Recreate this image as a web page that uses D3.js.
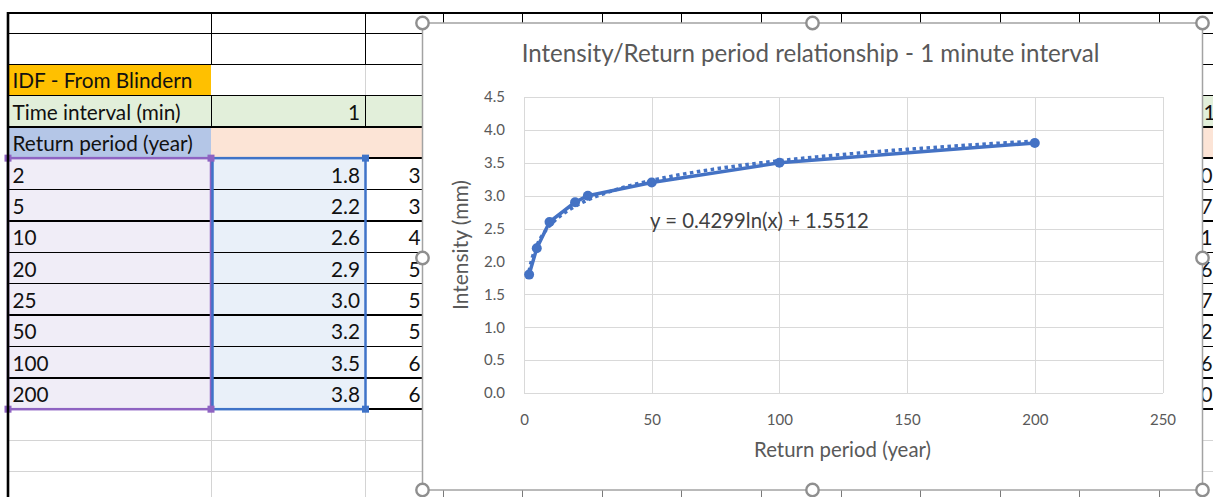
<!DOCTYPE html>
<html>
<head>
<meta charset="utf-8">
<script src="https://cdn.jsdelivr.net/npm/d3@7"></script>
<style>
  html, body { margin: 0; padding: 0; background: #fff; overflow: hidden; }
  svg { display: block; }
  text { font-family: Lato, "Open Sans", sans-serif; }
</style>
</head>
<body>
<svg id="sheet" width="1213" height="497"></svg>
<script>
// ---- data ----
const returnPeriods = [2, 5, 10, 20, 25, 50, 100, 200];
const intensity = [1.8, 2.2, 2.6, 2.9, 3.0, 3.2, 3.5, 3.8];
const headerLabels = ["IDF - From Blindern", "Time interval (min)", "Return period (year)"];
const timeInterval = 1;
const nextColumnDigits = ["3", "3", "4", "5", "5", "5", "6", "6"];
const farColumnHeader = "12";
const farColumnDigits = ["0", "7", "1", "6", "7", "2", "6", "0"];
const xTickValues = [0, 50, 100, 150, 200, 250];
const yTickValues = [0, 0.5, 1.0, 1.5, 2.0, 2.5, 3.0, 3.5, 4.0, 4.5];
const trendSlope = 0.4299;
const trendIntercept = 1.5512;
const chartTitle = "Intensity/Return period relationship - 1 minute interval";
const xAxisTitle = "Return period (year)";
const yAxisTitle = "Intensity (mm)";

const svg = d3.select("#sheet");
const W = 1213;

// scale a text node's font size so it spans the given width
function fitWidth(sel, width) {
  const len = sel.node().getComputedTextLength();
  const fs = parseFloat(sel.attr("font-size"));
  sel.attr("font-size", fs * width / len);
  return fs * width / len;
}

// ---- worksheet grid ----
const colEdges = [8, 211, 365].concat(d3.range(0, 11).map(i => 443 + i * 79.6));
const rowEdges = [13, 33].concat(d3.range(0, 15).map(i => 64 + i * 31.38));
const rowTop = i => rowEdges[i];
const rowBot = i => rowEdges[i + 1];

const fills = svg.append("g");
// IDF title cell
fills.append("rect").attr("x", 8).attr("y", rowTop(2)).attr("width", 203).attr("height", rowBot(2) - rowTop(2)).attr("fill", "#FFC000");
// time interval row
fills.append("rect").attr("x", 8).attr("y", rowTop(3)).attr("width", W - 8).attr("height", rowBot(3) - rowTop(3)).attr("fill", "#E2EFDA");
// return period row
fills.append("rect").attr("x", 8).attr("y", rowTop(4)).attr("width", 203).attr("height", rowBot(4) - rowTop(4)).attr("fill", "#B4C6E7");
fills.append("rect").attr("x", 211).attr("y", rowTop(4)).attr("width", W - 211).attr("height", rowBot(4) - rowTop(4)).attr("fill", "#FCE4D6");
// data block
fills.append("rect").attr("x", 8).attr("y", rowTop(5)).attr("width", 203).attr("height", rowBot(12) - rowTop(5)).attr("fill", "#F0EDF7");
fills.append("rect").attr("x", 211).attr("y", rowTop(5)).attr("width", 154).attr("height", rowBot(12) - rowTop(5)).attr("fill", "#E9F0F9");

const lines = svg.append("g").attr("shape-rendering", "crispEdges");
function hline(y, x1, x2, color, w) {
  lines.append("line").attr("x1", x1).attr("x2", x2).attr("y1", y).attr("y2", y)
    .attr("stroke", color).attr("stroke-width", w || 1);
}
function vline(x, y1, y2, color, w) {
  lines.append("line").attr("x1", x).attr("x2", x).attr("y1", y1).attr("y2", y2)
    .attr("stroke", color).attr("stroke-width", w || 1);
}

// light gridlines under the lower empty rows
hline(rowBot(13), 8, W, "#D4D4D4");
hline(rowBot(14), 8, W, "#D4D4D4");
vline(211, rowBot(12), 497, "#D4D4D4");
vline(365, rowBot(12), 497, "#D4D4D4");
colEdges.slice(3).forEach(x => vline(x, rowBot(12), 497, "#7a7a7a"));
vline(365, rowTop(2), rowBot(2), "#D4D4D4");

// bordered header rows
colEdges.forEach(x => vline(x, 13, 64, "#000"));
hline(33, 8, W, "#000");
hline(64, 8, W, "#000");
hline(rowBot(2), 8, W, "#000");
vline(211, rowTop(3), rowBot(3), "#000");
vline(365, rowTop(3), rowBot(3), "#000");
hline(rowBot(3), 8, W, "#000", 1.5);
hline(rowBot(4), 8, W, "#000", 1.5);
d3.range(5, 13).forEach(r => hline(rowBot(r), 8, W, "#000", 1.5));

// ---- worksheet text ----
const cells = svg.append("g").attr("fill", "#111");
const t0 = cells.append("text").attr("x", 12.5).attr("y", rowBot(2) - 7).attr("font-size", 20).text(headerLabels[0]);
const sheetFont = fitWidth(t0, 180);
cells.append("text").attr("x", 12.5).attr("y", rowBot(3) - 7).attr("font-size", sheetFont).text(headerLabels[1]);
cells.append("text").attr("x", 12.5).attr("y", rowBot(4) - 7).attr("font-size", sheetFont).text(headerLabels[2]);
cells.append("text").attr("x", 360).attr("y", rowBot(3) - 7).attr("font-size", sheetFont).attr("text-anchor", "end").text(timeInterval);
cells.append("text").attr("x", 1203.5).attr("y", rowBot(3) - 7).attr("font-size", sheetFont).text(farColumnHeader);

returnPeriods.forEach((p, i) => {
  const yb = rowBot(5 + i) - 7;
  cells.append("text").attr("x", 12.5).attr("y", yb).attr("font-size", sheetFont).text(p);
  cells.append("text").attr("x", 360).attr("y", yb).attr("font-size", sheetFont).attr("text-anchor", "end").text(intensity[i].toFixed(1));
  cells.append("text").attr("x", 420.5).attr("y", yb).attr("font-size", sheetFont).attr("text-anchor", "end").text(nextColumnDigits[i]);
  cells.append("text").attr("x", 1212.5).attr("y", yb).attr("font-size", sheetFont).attr("text-anchor", "end").text(farColumnDigits[i]);
});

// source range highlights
const sel = svg.append("g");
sel.append("rect").attr("x", 8).attr("y", rowTop(5)).attr("width", 203).attr("height", rowBot(12) - rowTop(5))
  .attr("fill", "none").attr("stroke", "#8E63C2").attr("stroke-width", 2.5);
sel.append("rect").attr("x", 212.5).attr("y", rowTop(5)).attr("width", 153).attr("height", rowBot(12) - rowTop(5))
  .attr("fill", "none").attr("stroke", "#3F73C8").attr("stroke-width", 2.5);
[[211, rowTop(5)], [211, rowBot(12)], [8, rowTop(5)], [8, rowBot(12)]].forEach(([x, y]) =>
  sel.append("rect").attr("x", x - 3.5).attr("y", y - 3.5).attr("width", 7).attr("height", 7).attr("fill", "#8E63C2"));
[[365.5, rowTop(5)], [365.5, rowBot(12)]].forEach(([x, y]) =>
  sel.append("rect").attr("x", x - 3.5).attr("y", y - 3.5).attr("width", 7).attr("height", 7).attr("fill", "#3F73C8"));

// sheet outer edge
svg.append("line").attr("x1", 8).attr("x2", W).attr("y1", 13).attr("y2", 13).attr("stroke", "#000").attr("stroke-width", 2.2);
svg.append("line").attr("x1", 8).attr("x2", 8).attr("y1", 12).attr("y2", 497).attr("stroke", "#000").attr("stroke-width", 2.6);

// ---- embedded chart ----
const frame = { x0: 422.5, y0: 23, x1: 1202.5, y1: 490 };
const chart = svg.append("g");
chart.append("rect").attr("x", frame.x0).attr("y", frame.y0)
  .attr("width", frame.x1 - frame.x0).attr("height", frame.y1 - frame.y0)
  .attr("fill", "#fff").attr("stroke", "#A3A3A3").attr("stroke-width", 1.5);

const x = d3.scaleLinear().domain([0, 250]).range([524, 1162.5]);
const y = d3.scaleLinear().domain([0, 4.5]).range([393, 97]);

const grid = chart.append("g").attr("shape-rendering", "crispEdges").attr("stroke", "#D9D9D9").attr("stroke-width", 1);
grid.selectAll(".h").data(yTickValues).join("line")
  .attr("x1", x(0)).attr("x2", x(250)).attr("y1", d => Math.round(y(d)) + 0.5).attr("y2", d => Math.round(y(d)) + 0.5);
grid.selectAll(".v").data(xTickValues).join("line")
  .attr("y1", y(4.5)).attr("y2", y(0)).attr("x1", d => Math.round(x(d)) + 0.5).attr("x2", d => Math.round(x(d)) + 0.5);

const tickFont = 15;
const yAxis = chart.append("g").attr("transform", `translate(${x(0)},0)`)
  .call(d3.axisLeft(y).tickValues(yTickValues).tickFormat(d3.format(".1f")).tickSize(0).tickPadding(19));
const xAxis = chart.append("g").attr("transform", `translate(0,${y(0)})`)
  .call(d3.axisBottom(x).tickValues(xTickValues).tickFormat(d3.format("d")).tickSize(0).tickPadding(21));
[yAxis, xAxis].forEach(a => {
  a.select(".domain").remove();
  a.selectAll("text").attr("fill", "#595959").attr("font-size", tickFont).style("font-family", "Lato, sans-serif");
});

// chart title and axis titles
const title = chart.append("text").attr("x", 810.5).attr("y", 62).attr("text-anchor", "middle")
  .attr("fill", "#595959").attr("font-size", 20).text(chartTitle);
fitWidth(title, 578);
const xt = chart.append("text").attr("x", 842.5).attr("y", 457).attr("text-anchor", "middle")
  .attr("fill", "#595959").attr("font-size", 16).text(xAxisTitle);
fitWidth(xt, 177);
const yt = chart.append("text").attr("transform", "translate(468,245) rotate(-90)").attr("text-anchor", "middle")
  .attr("fill", "#595959").attr("font-size", 16).text(yAxisTitle);
fitWidth(yt, 130);

// data series
const pts = returnPeriods.map((p, i) => [p, intensity[i]]);
const blue = "#4472C4";
chart.append("path").datum(pts)
  .attr("d", d3.line().x(d => x(d[0])).y(d => y(d[1])))
  .attr("fill", "none").attr("stroke", blue).attr("stroke-width", 3.5).attr("stroke-linejoin", "round");

// logarithmic trendline from the fitted coefficients
const xMin = d3.min(returnPeriods), xMax = d3.max(returnPeriods);
const trendPts = d3.range(0, 241).map(k => {
  const xv = xMin * Math.pow(xMax / xMin, k / 240);
  return [xv, trendSlope * Math.log(xv) + trendIntercept];
});
chart.append("path").datum(trendPts)
  .attr("d", d3.line().x(d => x(d[0])).y(d => y(d[1])))
  .attr("fill", "none").attr("stroke", blue).attr("stroke-width", 3.5).attr("stroke-dasharray", "3.5,3.5");

chart.selectAll(".pt").data(pts).join("circle")
  .attr("cx", d => x(d[0])).attr("cy", d => y(d[1])).attr("r", 5).attr("fill", blue);

// trendline equation
const eq = chart.append("text").attr("x", 650).attr("y", 228).attr("fill", "#404040").attr("font-size", 16)
  .text(`y = ${trendSlope}ln(x) + ${trendIntercept}`);
fitWidth(eq, 219);

// selection handles on the chart frame
const mx = (frame.x0 + frame.x1) / 2, my = 258;
const handles = [[frame.x0, frame.y0], [mx, frame.y0], [frame.x1, frame.y0],
                 [frame.x0, my], [frame.x1, my],
                 [frame.x0, frame.y1], [mx, frame.y1], [frame.x1, frame.y1]];
chart.selectAll(".hd").data(handles).join("circle")
  .attr("cx", d => d[0]).attr("cy", d => d[1]).attr("r", 6.2)
  .attr("fill", "#fff").attr("stroke", "#8F8F8F").attr("stroke-width", 2.4);
</script>
</body>
</html>
